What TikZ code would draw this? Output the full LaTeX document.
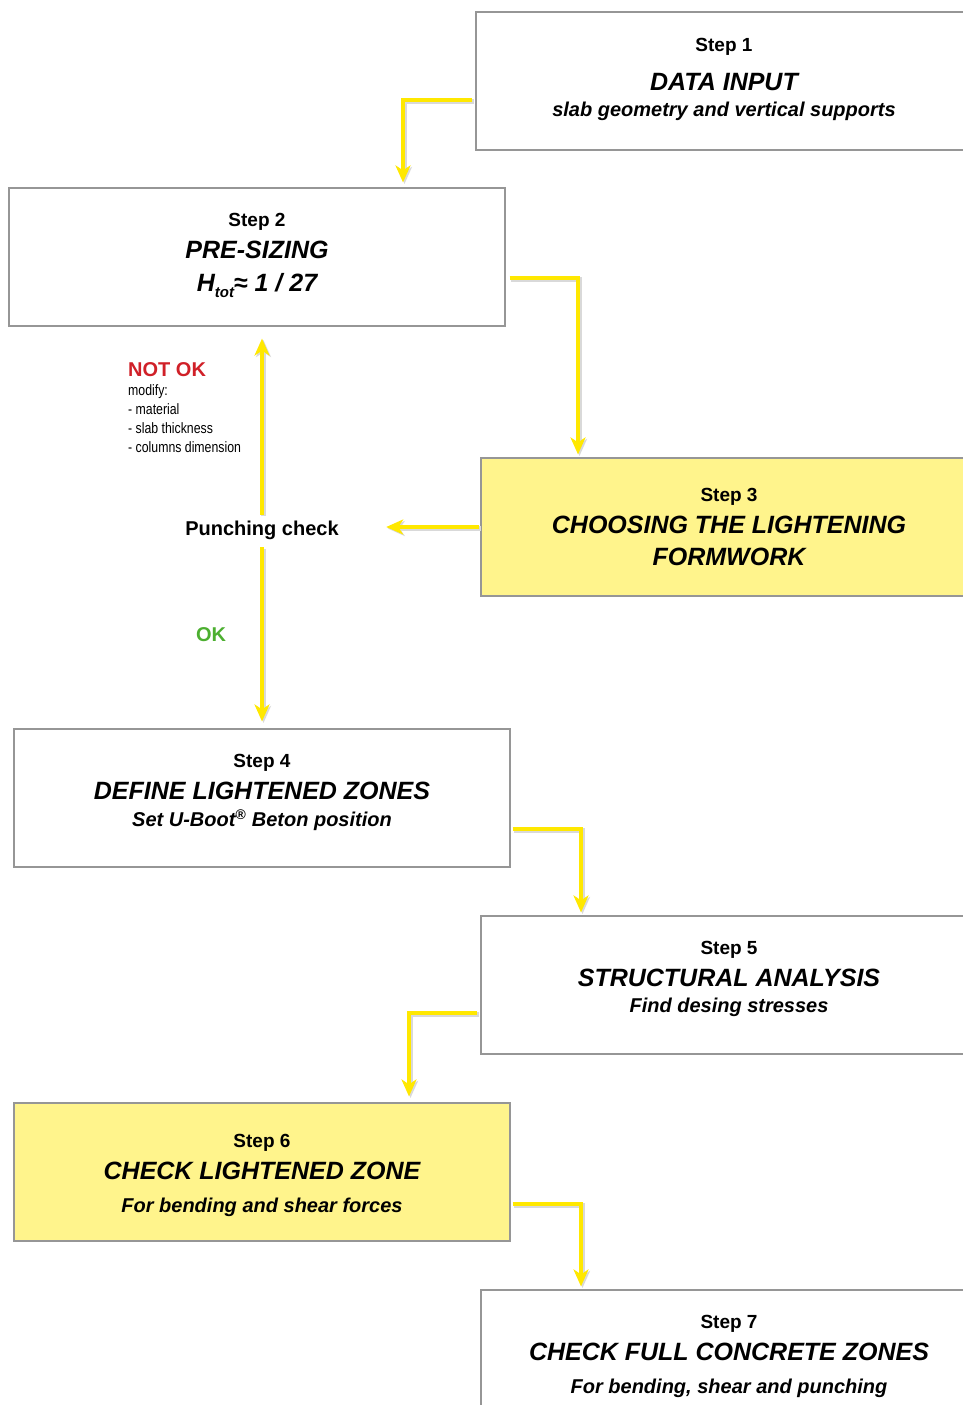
\documentclass[tikz,border=0pt]{standalone}
\usepackage{fontspec}
\setmainfont{Liberation Sans}
\newfontfamily\narrowfont{Liberation Sans}[FakeStretch=0.82]
\usetikzlibrary{arrows.meta}
\definecolor{flowyellow}{RGB}{255,232,0}
\definecolor{boxyellow}{RGB}{255,244,140}
\definecolor{boxgray}{RGB}{150,150,150}
\definecolor{notokred}{RGB}{208,32,40}
\definecolor{okgreen}{RGB}{76,175,48}
\tikzset{
  stepbox/.style={draw=boxgray, line width=1.2pt, minimum width=496pt, minimum height=138pt, inner sep=0pt},
  hibox/.style={stepbox, fill=boxyellow},
  steplbl/.style={font=\bfseries\fontsize{19}{23}\selectfont, anchor=mid},
  steptitle/.style={font=\bfseries\itshape\fontsize{25}{30}\selectfont, anchor=mid},
  stepsub/.style={font=\bfseries\itshape\fontsize{20}{24}\selectfont, anchor=mid},
  flow/.style={draw=flowyellow, line width=4.5pt, -{Stealth[length=17pt,width=15pt,inset=5pt]},
    preaction={draw=black!15, line width=5.5pt, transform canvas={shift={(1.5pt,-1.5pt)}}}},
}
\begin{document}
\begin{tikzpicture}[x=1pt, y=1pt]
  \useasboundingbox (0,0) rectangle (963,-1405);
  \clip (0,0) rectangle (963,-1405);

  % step boxes
  \node[stepbox] (s1) at (724,-81) {};
  \node[stepbox] (s2) at (257,-257) {};
  \node[hibox]   (s3) at (729,-527) {};
  \node[stepbox] (s4) at (262,-798) {};
  \node[stepbox] (s5) at (729,-985) {};
  \node[hibox]   (s6) at (262,-1172) {};
  \node[stepbox] (s7) at (729,-1359) {};

  % step texts
  \node[steplbl]   (s1a) at (724,-49) {Step 1};
  \node[steptitle] (s1b) at (724,-88) {DATA INPUT};
  \node[stepsub]   (s1c) at (724,-114) {slab geometry and vertical supports};

  \node[steplbl]   (s2a) at (257,-224) {Step 2};
  \node[steptitle] (s2b) at (257,-256) {PRE-SIZING};
  \node[steptitle] (s2c) at (257,-289) {H\raisebox{-0.45ex}{\fontsize{15}{18}\selectfont tot}≈ 1 / 27};

  \node[steplbl]   (s3a) at (729,-499) {Step 3};
  \node[steptitle] (s3b) at (729,-531) {CHOOSING THE LIGHTENING};
  \node[steptitle] (s3c) at (729,-563) {FORMWORK};

  \node[steplbl]   (s4a) at (262,-765) {Step 4};
  \node[steptitle] (s4b) at (262,-797) {DEFINE LIGHTENED ZONES};
  \node[stepsub]   (s4c) at (262,-824) {Set U-Boot\textsuperscript{®} Beton position};

  \node[steplbl]   (s5a) at (729,-952) {Step 5};
  \node[steptitle] (s5b) at (729,-984) {STRUCTURAL ANALYSIS};
  \node[stepsub]   (s5c) at (729,-1010) {Find desing stresses};

  \node[steplbl]   (s6a) at (262,-1145) {Step 6};
  \node[steptitle] (s6b) at (262,-1177) {CHECK LIGHTENED ZONE};
  \node[stepsub]   (s6c) at (262,-1210) {For bending and shear forces};

  \node[steplbl]   (s7a) at (729,-1326) {Step 7};
  \node[steptitle] (s7b) at (729,-1358) {CHECK FULL CONCRETE ZONES};
  \node[stepsub]   (s7c) at (729,-1391) {For bending, shear and punching};

  % punching check
  \node[font=\bfseries\fontsize{20}{24}\selectfont, anchor=mid] (pc) at (262,-533) {Punching check};
  \node[font=\bfseries\fontsize{20}{24}\selectfont, text=notokred, anchor=mid west, inner sep=0pt] (notok) at (128,-374) {NOT OK};
  \node[font=\narrowfont\fontsize{15}{19.3}\selectfont, align=left, anchor=north west, inner sep=0pt] (modify) at (128,-384)
    {modify:\\- material\\- slab thickness\\- columns dimension};
  \node[font=\bfseries\fontsize{20}{24}\selectfont, text=okgreen, anchor=mid] (ok) at (211,-639) {OK};

  % connectors
  \draw[flow, shorten <=3pt, shorten >=5pt] ([yshift=-19pt]s1.west) -| ([xshift=146pt]s2.north);
  \draw[flow, shorten <=4pt, shorten >=3pt] ([yshift=-21pt]s2.east) -| ([xshift=-151pt]s3.north);
  \draw[flow, shorten <=1pt] (s3.west) -- ([xshift=44pt]s3.west -| pc.east);
  \draw[flow, shorten <=4pt, shorten >=7pt] (pc.south) -- (s4.north);
  \draw[flow, shorten <=3pt, shorten >=12pt] (pc.north) -- (pc.north |- s2.south);
  \draw[flow, shorten <=2pt, shorten >=3pt] ([yshift=-31pt]s4.east) -| ([xshift=-148pt]s5.north);
  \draw[flow, shorten <=3pt, shorten >=6pt] ([yshift=-28pt]s5.west) -| ([xshift=147pt]s6.north);
  \draw[flow, shorten <=2pt, shorten >=3pt] ([yshift=-32pt]s6.east) -| ([xshift=-148pt]s7.north);
\end{tikzpicture}
\end{document}
